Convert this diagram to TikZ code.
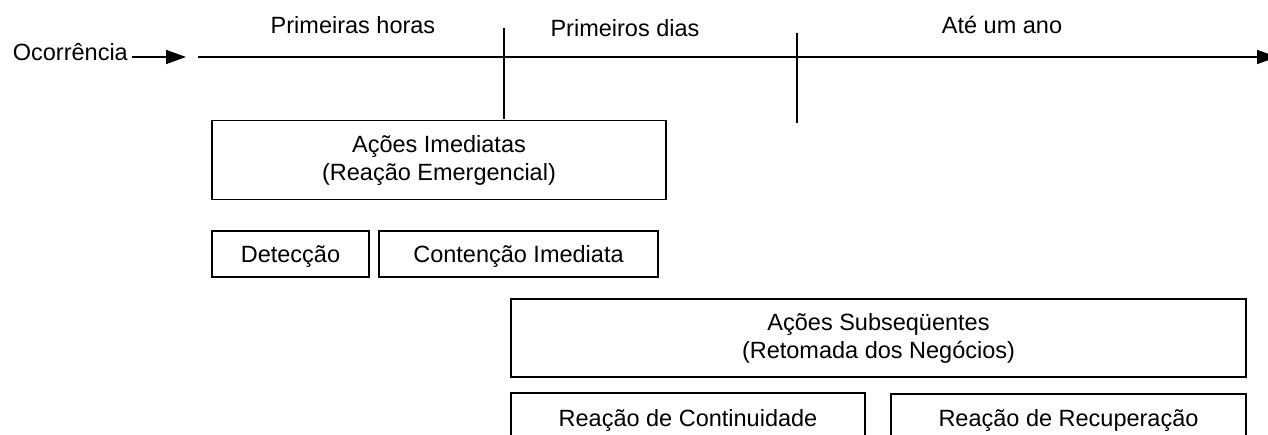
\documentclass[tikz,border=0pt]{standalone}
\usepackage{fontspec}
\setmainfont{Liberation Sans}
\usetikzlibrary{arrows.meta}
\begin{document}
\begin{tikzpicture}[
  x=1pt, y=-1pt,
  box/.style={rectangle, draw, line width=1.6pt, inner sep=0pt, align=center, font=\fontsize{23.5}{28}\selectfont},
  single/.style={box, minimum height=46pt, text height=17pt, text depth=-3pt},
  lbl/.style={inner sep=4pt, font=\fontsize{23.5}{28}\selectfont},
  arr/.style={-{Triangle[length=20pt,width=14pt]}, line width=1.6pt}
]
\useasboundingbox (0,0) rectangle (1268,434);
\clip (0,0) rectangle (1268,434);

% Time axis
\coordinate (t0) at (198,57);
\coordinate (t1) at (1277,57);
\coordinate (octip) at (186,57);
\node[lbl, anchor=base east] (ocor) at (132,60.5) {Ocorrência};
\draw[arr] (ocor.east |- octip) -- (octip);
\draw[arr] (t0) -- (t1);
\foreach \x/\a/\b in {504/28/119, 797/33/123}
  \draw[line width=1.6pt] (\x,\a) -- (\x,\b);

% Periods
\node[lbl, anchor=base] (horas) at (353,33) {Primeiras horas};
\node[lbl, anchor=base] (dias) at (625,36) {Primeiros dias};
\node[lbl, anchor=base] (ano) at (1002,33) {Até um ano};

% Actions
\node[box, minimum width=454pt, minimum height=79pt] (imed) at (439,160) {Ações Imediatas\\(Reação Emergencial)};
\node[single, minimum width=157pt] (detec) at (290.5,254) {Detecção};
\node[single, minimum width=279pt] (conten) at (518.5,254) {Contenção Imediata};
\node[box, minimum width=735pt, minimum height=78pt] (subseq) at (878.5,338) {Ações Subseqüentes\\(Retomada dos Negócios)};
\node[box, anchor=north, minimum width=354pt, text height=34pt, text depth=40pt] (contin) at (688,392) {Reação de Continuidade};
\node[box, anchor=north, minimum width=355pt, text height=33pt, text depth=40pt] (recup) at (1068.5,393) {Reação de Recuperação};

\end{tikzpicture}
\end{document}
